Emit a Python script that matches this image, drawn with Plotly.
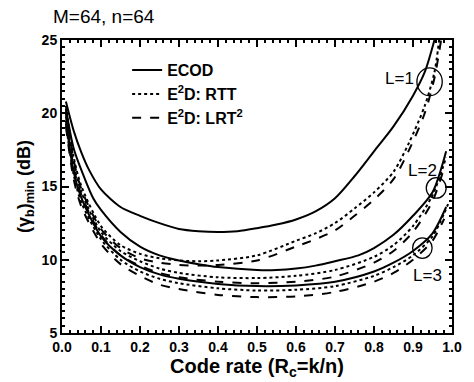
import plotly.graph_objects as go

# ---- data ----
x_l1_ecod = [0.01, 0.03, 0.05, 0.07, 0.1, 0.15, 0.2, 0.25, 0.3, 0.35, 0.4, 0.45, 0.5, 0.55, 0.6, 0.65, 0.7, 0.75, 0.8, 0.85, 0.9, 0.93, 0.955]
y_l1_ecod = [20.8, 18.8, 17.3, 16.1, 14.8, 13.6, 13.0, 12.5, 12.1, 11.95, 11.9, 11.95, 12.15, 12.4, 12.75, 13.3, 14.2, 15.7, 17.4, 19.1, 21.2, 22.8, 25.0]

x_l1_rtt = [0.01, 0.03, 0.05, 0.1, 0.15, 0.2, 0.25, 0.3, 0.35, 0.4, 0.5, 0.6, 0.65, 0.7, 0.75, 0.8, 0.85, 0.89, 0.93, 0.955, 0.967]
y_l1_rtt = [20.5, 17.0, 15.0, 12.3, 11.0, 10.4, 10.1, 9.95, 9.9, 9.95, 10.3, 11.3, 11.8, 12.5, 13.5, 14.6, 16.0, 18.0, 20.5, 22.8, 25.0]

x_l1_lrt = [0.01, 0.03, 0.05, 0.1, 0.15, 0.2, 0.25, 0.3, 0.35, 0.4, 0.5, 0.6, 0.65, 0.7, 0.75, 0.8, 0.85, 0.89, 0.93, 0.955, 0.972]
y_l1_lrt = [20.3, 16.8, 14.8, 12.1, 10.8, 10.1, 9.8, 9.65, 9.6, 9.65, 9.95, 10.9, 11.4, 12.0, 13.0, 14.1, 15.5, 17.5, 20.0, 22.4, 25.0]

x_l2_ecod = [0.01, 0.03, 0.05, 0.08, 0.1, 0.15, 0.2, 0.25, 0.3, 0.35, 0.4, 0.5, 0.55, 0.6, 0.65, 0.7, 0.76, 0.8, 0.85, 0.9, 0.95, 0.985]
y_l2_ecod = [20.3, 17.6, 16.1, 14.2, 13.4, 11.9, 10.9, 10.3, 9.95, 9.7, 9.5, 9.3, 9.3, 9.4, 9.6, 9.9, 10.3, 10.8, 11.7, 13.0, 14.6, 17.4]

x_l2_rtt = [0.01, 0.03, 0.05, 0.1, 0.15, 0.2, 0.25, 0.3, 0.4, 0.5, 0.6, 0.7, 0.8, 0.85, 0.9, 0.95, 0.985]
y_l2_rtt = [20.0, 16.5, 14.6, 11.9, 10.6, 9.9, 9.4, 9.1, 8.8, 8.75, 8.9, 9.3, 10.2, 11.0, 12.3, 14.4, 17.0]

x_l2_lrt = [0.01, 0.03, 0.05, 0.1, 0.15, 0.2, 0.25, 0.3, 0.4, 0.5, 0.6, 0.7, 0.8, 0.85, 0.9, 0.95, 0.98]
y_l2_lrt = [19.8, 16.3, 14.4, 11.7, 10.3, 9.6, 9.1, 8.8, 8.5, 8.4, 8.5, 8.85, 9.8, 10.6, 11.9, 14.0, 16.3]

x_l3_ecod = [0.01, 0.03, 0.05, 0.1, 0.15, 0.2, 0.25, 0.3, 0.4, 0.5, 0.6, 0.7, 0.8, 0.85, 0.9, 0.95, 0.985]
y_l3_ecod = [19.5, 16.0, 14.2, 11.6, 10.3, 9.5, 9.0, 8.7, 8.35, 8.2, 8.25, 8.5, 9.2, 9.8, 10.6, 11.8, 13.6]

x_l3_rtt = [0.01, 0.03, 0.05, 0.1, 0.15, 0.2, 0.25, 0.3, 0.4, 0.5, 0.6, 0.7, 0.8, 0.85, 0.9, 0.95, 0.99]
y_l3_rtt = [19.3, 15.8, 13.9, 11.4, 10.0, 9.2, 8.7, 8.4, 8.05, 7.9, 7.95, 8.2, 8.9, 9.5, 10.3, 11.6, 13.8]

x_l3_lrt = [0.01, 0.03, 0.05, 0.1, 0.15, 0.2, 0.25, 0.3, 0.4, 0.5, 0.6, 0.7, 0.8, 0.85, 0.9, 0.95, 0.98]
y_l3_lrt = [19.1, 15.5, 13.6, 11.1, 9.7, 8.9, 8.3, 8.0, 7.6, 7.45, 7.5, 7.8, 8.5, 9.1, 10.0, 11.3, 12.8]

legend_names = ["ECOD", "E<sup>2</sup>D: RTT", "E<sup>2</sup>D: LRT<sup>2</sup>"]
dash_styles = ["solid", "dot", "dash"]

groups = [
    [(x_l1_ecod, y_l1_ecod), (x_l1_rtt, y_l1_rtt), (x_l1_lrt, y_l1_lrt)],
    [(x_l2_ecod, y_l2_ecod), (x_l2_rtt, y_l2_rtt), (x_l2_lrt, y_l2_lrt)],
    [(x_l3_ecod, y_l3_ecod), (x_l3_rtt, y_l3_rtt), (x_l3_lrt, y_l3_lrt)],
]

label_text = ["L=1", "L=2", "L=3"]
label_x = [0.866, 0.925, 0.937]
label_y = [22.4, 16.1, 8.9]
circle_x0 = [0.91, 0.934, 0.899]
circle_x1 = [0.975, 0.985, 0.949]
circle_y0 = [21.2, 14.2, 10.1]
circle_y1 = [23.1, 15.6, 11.5]

FONT = "Liberation Sans, Arial, Helvetica, sans-serif"

fig = go.Figure()
for gi, grp in enumerate(groups):
    for mi, (xs, ys) in enumerate(grp):
        fig.add_trace(go.Scatter(
            x=xs, y=ys, mode="lines",
            line=dict(color="black", width=2, dash=dash_styles[mi], shape="spline", smoothing=0.8),
            name=legend_names[mi], showlegend=(gi == 0), legendgroup="g%d" % mi,
        ))

for i in range(3):
    fig.add_annotation(x=label_x[i], y=label_y[i], text=label_text[i], showarrow=False,
                       font=dict(family=FONT, size=17, color="black"), xanchor="center", yanchor="middle")
    fig.add_shape(type="circle", xref="x", yref="y", x0=circle_x0[i], x1=circle_x1[i],
                  y0=circle_y0[i], y1=circle_y1[i], line=dict(color="black", width=1.3))

axis_common = dict(
    showline=True, linecolor="black", linewidth=2, mirror="allticks",
    ticks="inside", tickcolor="black", tickwidth=2, ticklen=7,
    showgrid=False, zeroline=False,
    tickfont=dict(family=FONT, size=14, color="black", weight="bold"),
)

fig.update_layout(
    width=474, height=382,
    margin=dict(l=62, r=16, t=40, b=47),
    plot_bgcolor="white", paper_bgcolor="white",
    title=dict(text="M=64, n=64", x=53/474, xanchor="left", xref="container",
               y=1 - 16/382, yanchor="middle", yref="container",
               font=dict(family=FONT, size=19, color="black")),
    xaxis=dict(range=[0, 1], dtick=0.1, tick0=0, tickformat=".1f",
               minor=dict(ticks="inside", dtick=0.02, ticklen=3, tickcolor="black", tickwidth=1.5),
               title=dict(text="<b>Code rate (R<sub>c</sub>=k/n)</b>", standoff=1,
                          font=dict(family=FONT, size=20, color="black")),
               **axis_common),
    yaxis=dict(range=[5, 25], dtick=5, tick0=5,
               minor=dict(ticks="inside", dtick=0.5, ticklen=3, tickcolor="black", tickwidth=1.5),
               title=dict(text="<b>(γ<sub>b</sub>)<sub>min</sub> (dB)</b>", standoff=6,
                          font=dict(family=FONT, size=18, color="black")),
               **axis_common),
    legend=dict(x=0.167, y=0.955, xanchor="left", yanchor="top", bgcolor="rgba(0,0,0,0)",
                font=dict(family=FONT, size=16, color="black", weight="bold"),
                tracegroupgap=0, itemwidth=30, traceorder="grouped"),
    showlegend=True,
)

fig.write_html("out.html")
